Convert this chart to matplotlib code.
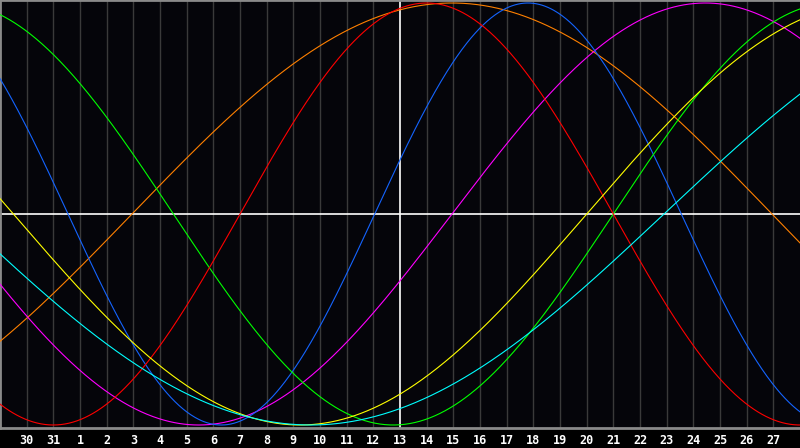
import matplotlib
matplotlib.use("Agg")
import matplotlib.pyplot as plt
import numpy as np

# day labels under each grid line
day_labels = ["30", "31"] + [str(d) for d in range(1, 28)]

# cycle lengths (days) and position of each curve's peak, in grid units
cycle_len = [23, 28, 33, 38, 43, 48, 53]
peak_at = [19.8, 16.0, 31.25, 26.45, 32.75, 16.95, 38.15]
colors = ["#1464ff", "#ff0000", "#00ff00", "#ff00ff", "#ffff00", "#ff8000", "#00ffff"]
draw_order = [5, 3, 0, 2, 1, 4, 6]

today_pos = 15

fig = plt.figure(figsize=(8, 4.48), dpi=100, facecolor="#000000")
ax = fig.add_axes([0, 20 / 448, 1, 428 / 448])
ax.set_facecolor("#05050a")
ax.set_xlim(0, 30)
ax.set_ylim(-214 / 211, 214 / 211)

# grid
for i in range(1, len(day_labels) + 1):
    if i == today_pos:
        continue
    ax.axvline(i, color="#3a3a3a", lw=1, zorder=1)
ax.axvline(today_pos, color="#ffffff", lw=1.2, zorder=2)
ax.axhline(0, color="#ffffff", lw=1.2, zorder=2)

t = np.linspace(0, 30, 801)
for k in draw_order:
    y = np.cos(2 * np.pi * (t - peak_at[k]) / cycle_len[k])
    ax.plot(t, y, color=colors[k], lw=0.8, zorder=3)

for s in ["top", "left", "bottom"]:
    ax.spines[s].set_color("#8a8a8a")
    ax.spines[s].set_linewidth(2)
ax.spines["right"].set_visible(False)

ax.set_xticks(range(1, len(day_labels) + 1))
ax.set_xticklabels(day_labels)
ax.tick_params(axis="x", length=0, pad=4, colors="white", labelsize=8.5)
for lab in ax.get_xticklabels():
    lab.set_fontweight("bold")
    lab.set_family("DejaVu Sans Mono")
ax.set_yticks([])

fig.savefig("out.png", dpi=100, facecolor=fig.get_facecolor())
